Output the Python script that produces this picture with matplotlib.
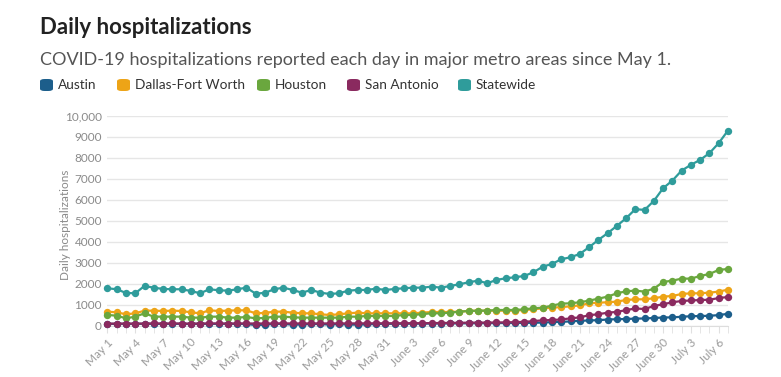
import datetime as dt

import matplotlib.pyplot as plt
from matplotlib.patches import FancyBboxPatch

# daily values, May 1 .. July 7
start = dt.date(2020, 5, 1)

statewide = [1777, 1730, 1553, 1538, 1887, 1806, 1744, 1730, 1730, 1648,
             1538, 1730, 1682, 1663, 1730, 1806, 1519, 1560, 1730, 1806,
             1696, 1567, 1696, 1567, 1505, 1538, 1663, 1696, 1696, 1758,
             1696, 1744, 1777, 1806, 1806, 1854, 1806, 1887, 1968, 2064,
             2140, 2016, 2174, 2255, 2303, 2365, 2542, 2809, 2938, 3163,
             3258, 3416, 3736, 4085, 4405, 4754, 5122, 5552, 5518, 5948,
             6555, 6918, 7396, 7669, 7907, 8227, 8705, 9307]
dallas = [661, 629, 535, 582, 708, 708, 693, 708, 693, 629,
          582, 725, 693, 708, 725, 725, 582, 600, 661, 661,
          613, 582, 582, 535, 502, 535, 582, 613, 582, 582,
          582, 582, 582, 582, 613, 645, 645, 645, 661, 693,
          708, 708, 708, 708, 708, 740, 774, 820, 850, 880,
          915, 960, 1060, 1090, 1108, 1140, 1218, 1250, 1250, 1300,
          1377, 1410, 1505, 1537, 1537, 1569, 1617, 1712]
houston = [502, 470, 343, 422, 582, 422, 422, 422, 422, 375,
           375, 422, 422, 375, 375, 406, 343, 360, 422, 422,
           391, 375, 375, 375, 375, 375, 422, 422, 454, 454,
           454, 454, 502, 502, 545, 582, 582, 613, 661, 693,
           708, 708, 740, 740, 740, 774, 820, 852, 948, 1045,
           1060, 1110, 1186, 1282, 1377, 1537, 1633, 1665, 1617, 1760,
           2078, 2142, 2237, 2237, 2365, 2460, 2652, 2700]
san_antonio = [90, 92, 95, 90, 95, 100, 95, 98, 95, 92,
               95, 98, 100, 95, 98, 100, 95, 98, 100, 102,
               98, 100, 100, 98, 100, 102, 100, 102, 105, 105,
               105, 108, 108, 110, 110, 115, 120, 125, 130, 135,
               140, 140, 145, 150, 160, 175, 210, 250, 260, 290,
               340, 390, 490, 540, 610, 650, 735, 815, 785, 935,
               1015, 1110, 1170, 1195, 1215, 1230, 1310, 1360]
austin = [75, 78, 75, 80, 78, 80, 78, 80, 78, 75,
          78, 80, 78, 80, 78, 75, 20, 40, 78, 75,
          40, 45, 75, 70, 40, 70, 40, 45, 50, 75,
          80, 82, 85, 88, 90, 92, 95, 98, 100, 105,
          108, 110, 115, 118, 120, 125, 130, 140, 160, 175,
          195, 225, 240, 255, 285, 300, 310, 330, 335, 360,
          380, 390, 415, 445, 450, 465, 495, 560]

series = [
    ("Austin", austin, "#1c5e8b"),
    ("Dallas-Fort Worth", dallas, "#eda417"),
    ("Houston", houston, "#6aa73e"),
    ("San Antonio", san_antonio, "#8a2a5f"),
    ("Statewide", statewide, "#2f9c9b"),
]

y_ticks = [0, 1000, 2000, 3000, 4000, 5000, 6000, 7000, 8000, 9000, 10000]
y_tick_labels = ["0", "1000", "2000", "3000", "4000", "5000", "6000",
                 "7000", "8000", "9000", "10,000"]

days = list(range(len(statewide)))
tick_days = days[::3][:23]
tick_labels = []
for d in tick_days:
    day = start + dt.timedelta(days=d)
    tick_labels.append(f"{day.strftime('%B')} {day.day}")

plt.rcParams['font.family'] = ['Lato', 'DejaVu Sans']

fig = plt.figure(figsize=(7.81, 3.77), dpi=100)
ax = fig.add_axes([0.1376, 0.1366, 0.7945, 0.5557])

for name, vals, color in series:
    ax.plot(days, vals, color=color, lw=1.6, marker='o', markersize=5.3,
            markeredgewidth=0, clip_on=False, zorder=3)

ax.set_xlim(0, len(days) - 1)
ax.set_ylim(0, 10000)
ax.set_yticks(y_ticks)
ax.set_yticklabels(y_tick_labels)
ax.set_xticks(tick_days)
ax.set_xticklabels(tick_labels, rotation=45, ha='right', va='top',
                   rotation_mode='anchor')
ax.set_xticks(days, minor=True)

ax.grid(axis='y', color='#e6e6e6', lw=1)
ax.set_axisbelow(True)
for side in ['top', 'right', 'left']:
    ax.spines[side].set_visible(False)
ax.spines['bottom'].set_color('#dddddd')
ax.tick_params(axis='y', length=0, pad=4, labelsize=8.5, labelcolor='#8a8a8a')
ax.tick_params(axis='x', which='both', length=5, color='#e0e0e0', pad=3,
               labelsize=8.5, labelcolor='#9a9a9a')

ax.set_ylabel("Daily hospitalizations", fontsize=8.5, color='#8a8a8a')
ax.yaxis.set_label_coords(-0.058, 0.48)

fig.text(40 / 781, 1 - 27 / 377, "Daily hospitalizations", fontsize=16,
         fontweight='bold', color='#222222', va='center', ha='left')
fig.text(40 / 781, 1 - 60 / 377,
         "COVID-19 hospitalizations reported each day in major metro areas since May 1.",
         fontsize=13, color='#555555', va='center', ha='left')

# legend
leg_x = [40, 117, 257, 347, 458]
for (name, vals, color), lx in zip(series, leg_x):
    box = FancyBboxPatch((lx / 781, 1 - 91 / 377), 13 / 781, 12 / 377,
                         boxstyle="round,pad=0,rounding_size=0.006",
                         transform=fig.transFigure, facecolor=color,
                         edgecolor='none')
    fig.patches.append(box)
    fig.text((lx + 18) / 781, 1 - 85 / 377, name, fontsize=9.8,
             color='#333333', va='center', ha='left')

fig.savefig("out.png", dpi=100)
